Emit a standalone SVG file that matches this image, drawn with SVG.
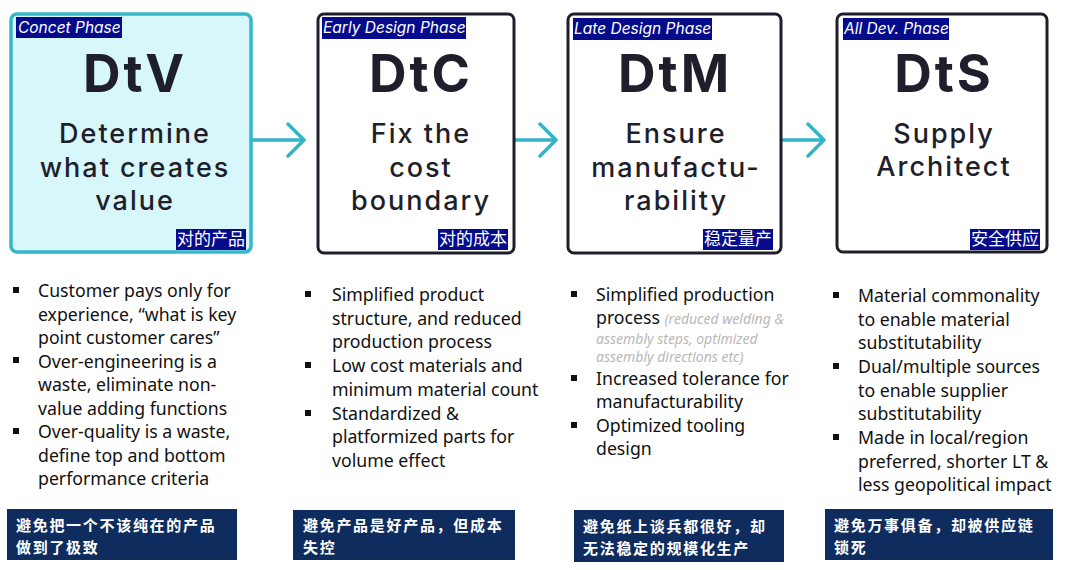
<svg xmlns="http://www.w3.org/2000/svg" width="1080" height="570" viewBox="0 0 1080 570">
<defs>
<marker id="chev" markerUnits="userSpaceOnUse" markerWidth="24" markerHeight="40" refX="18" refY="18" orient="auto">
<path d="M2,2 L18,18 L2,34" fill="none" stroke="#33b4c8" stroke-width="3.5" stroke-linecap="round" stroke-linejoin="round"/>
</marker>
<style>
.box{fill:#ffffff;stroke:#1e1f2b;stroke-width:3}
.box1{fill:#d8f7fb;stroke:#36b6c9;stroke-width:3.5}
.lab{fill:#060b8c}
.labt{font-family:"Inter","Liberation Sans",sans-serif;font-style:italic;font-size:15.5px;fill:#ffffff}
.cjk{font-family:"Noto Sans CJK SC",sans-serif;font-size:17px;fill:#ffffff}
.big{font-family:"Inter","Liberation Sans",sans-serif;font-weight:700;font-size:52px;fill:#1e1f2b;text-anchor:middle;letter-spacing:3px}
.sub{font-family:"Inter","Liberation Sans",sans-serif;font-weight:500;font-size:27px;fill:#1e1f2b;text-anchor:middle;letter-spacing:2px}
.bt{font-family:"Noto Sans","Liberation Sans",sans-serif;font-size:17.7px;fill:#111111}
.gray{font-family:"Noto Sans","Liberation Sans",sans-serif;font-size:14px;font-style:italic;fill:#b8b8b8}
.bul{fill:#111111}
.ban{fill:#0f2c5e}
.bant{font-family:"Noto Sans CJK SC",sans-serif;font-size:15px;font-weight:700;fill:#ffffff;letter-spacing:1.7px}
.conn{stroke:#33b4c8;stroke-width:3.5;fill:none}
</style>
</defs>
<rect width="1080" height="570" fill="#ffffff"/>

<g id="connectors">
<line class="conn" x1="252" y1="140" x2="304" y2="140" marker-end="url(#chev)"/>
<line class="conn" x1="515" y1="140" x2="556" y2="140" marker-end="url(#chev)"/>
<line class="conn" x1="782" y1="140" x2="824" y2="140" marker-end="url(#chev)"/>
</g>

<g id="dtv">
<rect class="box1" x="11" y="14" width="240" height="238" rx="6"/>
<rect class="lab" x="16" y="17" width="106" height="21"/>
<text class="labt" x="18" y="33">Concet Phase</text>
<text class="big" x="135" y="92">DtV</text>
<text class="sub" x="135" y="143">Determine</text>
<text class="sub" x="135" y="177">what creates</text>
<text class="sub" x="135" y="210">value</text>
<rect class="lab" x="176" y="229" width="70" height="21"/>
<text class="cjk" x="177" y="245">对的产品</text>
</g>

<g id="dtc">
<rect class="box" x="318" y="14" width="196" height="239" rx="6"/>
<rect class="lab" x="322" y="17" width="144" height="22"/>
<text class="labt" x="323" y="33">Early Design Phase</text>
<text class="big" x="421" y="92">DtC</text>
<text class="sub" x="421" y="143">Fix the</text>
<text class="sub" x="421" y="177">cost</text>
<text class="sub" x="421" y="210">boundary</text>
<rect class="lab" x="438" y="229" width="70" height="21"/>
<text class="cjk" x="439" y="245">对的成本</text>
</g>

<g id="dtm">
<rect class="box" x="568" y="14" width="213" height="239" rx="6"/>
<rect class="lab" x="573" y="18" width="139" height="22"/>
<text class="labt" x="574" y="34">Late Design Phase</text>
<text class="big" x="675" y="92">DtM</text>
<text class="sub" x="676" y="143">Ensure</text>
<text class="sub" x="676" y="177">manufactu-</text>
<text class="sub" x="676" y="210">rability</text>
<rect class="lab" x="703" y="229" width="70" height="21"/>
<text class="cjk" x="704" y="245">稳定量产</text>
</g>

<g id="dts">
<rect class="box" x="837" y="14" width="210" height="238" rx="6"/>
<rect class="lab" x="843" y="18" width="106" height="22"/>
<text class="labt" x="844" y="34">All Dev. Phase</text>
<text class="big" x="944" y="92">DtS</text>
<text class="sub" x="944" y="143">Supply</text>
<text class="sub" x="944" y="176">Architect</text>
<rect class="lab" x="970" y="229" width="70" height="21"/>
<text class="cjk" x="971" y="245">安全供应</text>
</g>

<g id="list-dtv">
<rect class="bul" x="13" y="287" width="6" height="6"/>
<rect class="bul" x="13" y="357" width="6" height="6"/>
<rect class="bul" x="13" y="428" width="6" height="6"/>
<text class="bt" x="38" y="297">Customer pays only for</text>
<text class="bt" x="38" y="321">experience, “what is key</text>
<text class="bt" x="38" y="344">point customer cares”</text>
<text class="bt" x="38" y="368">Over-engineering is a</text>
<text class="bt" x="38" y="391">waste, eliminate non-</text>
<text class="bt" x="38" y="415">value adding functions</text>
<text class="bt" x="38" y="438">Over-quality is a waste,</text>
<text class="bt" x="38" y="462">define top and bottom</text>
<text class="bt" x="38" y="485">performance criteria</text>
</g>

<g id="list-dtc">
<rect class="bul" x="305" y="291" width="6" height="6"/>
<rect class="bul" x="305" y="362" width="6" height="6"/>
<rect class="bul" x="305" y="410" width="6" height="6"/>
<text class="bt" x="332" y="301">Simplified product</text>
<text class="bt" x="332" y="325">structure,  and reduced</text>
<text class="bt" x="332" y="348">production process</text>
<text class="bt" x="332" y="372">Low cost materials and</text>
<text class="bt" x="332" y="396">minimum material count</text>
<text class="bt" x="332" y="420">Standardized &amp;</text>
<text class="bt" x="332" y="443">platformized parts for</text>
<text class="bt" x="332" y="467">volume effect</text>
</g>

<g id="list-dtm">
<rect class="bul" x="571" y="291" width="6" height="6"/>
<rect class="bul" x="571" y="375" width="6" height="6"/>
<rect class="bul" x="571" y="422" width="6" height="6"/>
<text class="bt" x="596" y="301">Simplified production</text>
<text class="bt" x="596" y="324">process <tspan class="gray">(reduced welding &amp;</tspan></text>
<text class="gray" x="596" y="344">assembly steps, optimized</text>
<text class="gray" x="596" y="362">assembly directions etc)</text>
<text class="bt" x="596" y="385">Increased tolerance for</text>
<text class="bt" x="596" y="408">manufacturability</text>
<text class="bt" x="596" y="432">Optimized tooling</text>
<text class="bt" x="596" y="455">design</text>
</g>

<g id="list-dts">
<rect class="bul" x="833" y="292" width="6" height="6"/>
<rect class="bul" x="833" y="363" width="6" height="6"/>
<rect class="bul" x="833" y="434" width="6" height="6"/>
<text class="bt" x="858" y="302">Material commonality</text>
<text class="bt" x="858" y="326">to enable material</text>
<text class="bt" x="858" y="349">substitutability</text>
<text class="bt" x="858" y="373">Dual/multiple sources</text>
<text class="bt" x="858" y="397">to enable supplier</text>
<text class="bt" x="858" y="420">substitutability</text>
<text class="bt" x="858" y="444">Made in local/region</text>
<text class="bt" x="858" y="468">preferred, shorter LT &amp;</text>
<text class="bt" x="858" y="491">less geopolitical impact</text>
</g>

<g id="banner-dtv">
<rect class="ban" x="7" y="509" width="230" height="51"/>
<text class="bant" x="16" y="531">避免把一个不该纯在的产品</text>
<text class="bant" x="16" y="553">做到了极致</text>
</g>
<g id="banner-dtc">
<rect class="ban" x="293" y="510" width="222" height="50"/>
<text class="bant" x="303" y="531">避免产品是好产品，但成本</text>
<text class="bant" x="303" y="553">失控</text>
</g>
<g id="banner-dtm">
<rect class="ban" x="574" y="510" width="210" height="52"/>
<text class="bant" x="583" y="532">避免纸上谈兵都很好，却</text>
<text class="bant" x="583" y="554">无法稳定的规模化生产</text>
</g>
<g id="banner-dts">
<rect class="ban" x="825" y="509" width="228" height="51"/>
<text class="bant" x="834" y="531">避免万事俱备，却被供应链</text>
<text class="bant" x="834" y="553">锁死</text>
</g>
</svg>
